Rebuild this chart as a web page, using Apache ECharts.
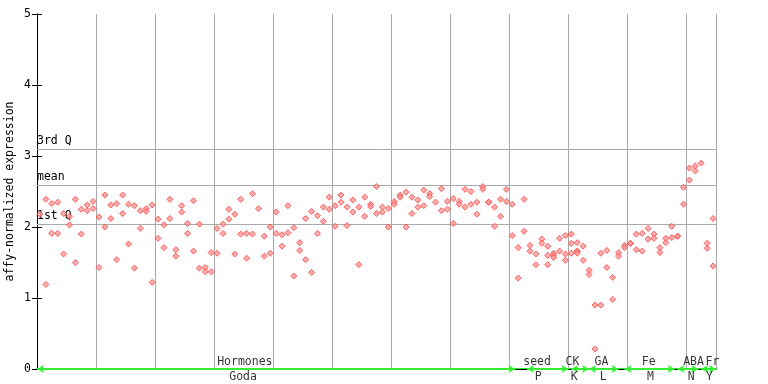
<!DOCTYPE html>
<html><head><meta charset="utf-8">
<script src="https://cdn.jsdelivr.net/npm/echarts@6/dist/echarts.min.js"></script>
<style>html,body{margin:0;padding:0;background:#fff}#c{width:768px;height:384px}</style>
</head><body><div id="c"></div>
<script>
// Expression values per sample position (x = index + 0.5)
const expression = [
 [2.18],[2.39,1.19],[2.33,1.91],[2.35,1.91],[2.19,1.62],[2.15,2.03],[2.39,1.50],[2.25,1.90],[2.31,2.23],[2.36,2.26],
 [2.14,1.43],[2.45,2.00],[2.31,2.12],[2.33,1.54],[2.45,2.19],[2.32,1.76],[2.30,1.42],[2.23,1.98],[2.26,2.22],[2.31,1.22],
 [2.11,1.84],[2.03,1.71],[2.39,2.12],[1.68,1.59],[2.30,2.21],[2.05,1.91],[2.37,1.66],[2.04,1.42],[1.43,1.37],[1.64,1.37],
 [1.98,1.63],[2.04,1.91],[2.25,2.11],[2.18,1.62],[2.39,1.90],[1.91,1.56],[2.47,1.90],[2.26],[1.87,1.59],[2.00,1.63],
 [2.21,1.91],[1.89,1.73],[2.30,1.92],[1.99,1.31],[1.78,1.67],[2.12,1.54],[2.22,1.36],[2.16,1.91],[2.28,2.08],[2.42,2.25],
 [2.30,2.01],[2.45,2.35],[2.28,2.02],[2.38,2.21],[2.28,1.47],[2.42,2.15],[2.32,2.29],[2.57,2.19],[2.28,2.21],[2.26,2.00],
 [2.36,2.32],[2.45,2.42],[2.49,2.00],[2.42,2.19],[2.38,2.28],[2.52,2.30],[2.47,2.43],[2.35],[2.54,2.23],[2.36,2.25],
 [2.40,2.05],[2.36,2.32],[2.53,2.28],[2.50,2.32],[2.35,2.18],[2.57,2.53],[2.35,2.35],[2.28,2.01],[2.39,2.15],[2.53,2.36],
 [2.32,1.88],[1.71,1.28],[2.39,1.94],[1.74,1.66],[1.62,1.47],[1.83,1.77],[1.73,1.60,1.47],[1.63,1.60,1.57],[1.84,1.66],[1.88,1.62,1.53],
 [1.90,1.77,1.63],[1.78,1.66,1.66,1.63],[1.73,1.53],[1.39,1.33],[0.90,0.28],[1.63,0.90],[1.67,1.43],[1.29,0.98],[1.64,1.59],[1.74,1.71],
 [1.77,1.77],[1.90,1.68],[1.91,1.66],[1.98,1.83],[1.90,1.84],[1.71,1.64],[1.84,1.78],[2.01,1.85],[1.87,1.87],[2.56,2.32],
 [2.83,2.66],[2.86,2.79],[2.90],[1.77,1.70],[2.12,1.45]
];
const xMax = 115;
const refNames = ['3rd Q','mean','1st Q'];
const refValues = [3.10, 2.59, 2.04];
// experiment groups along the bottom axis
const groupStart = [0, 83, 90.5, 93.5, 99.5, 108.5, 112.5];
const groupEnd   = [81, 90, 93.5, 98.5, 108, 112, 115];
const groupTop = ['Hormones','seed','CK','GA','Fe','ABA','Fr'];
const groupTopPos = [35.2, 84.7, 90.7, 95.6, 103.6, 111.2, 114.4];
const groupBottom = ['Goda','P','K','L','M','N','Y'];
const groupBottomPos = [34.9, 84.9, 91.0, 95.9, 103.9, 110.8, 113.9];

const mono = 'DejaVu Sans Mono';
const pts = [];
expression.forEach((vals, i) => vals.forEach(v => pts.push([i + 0.5, v])));

const chart = echarts.init(document.getElementById('c'), null, {renderer: 'canvas'});
chart.setOption({
  animation: false,
  grid: {left: 37, right: 52, top: 14, bottom: 15, containLabel: false, outerBoundsMode: 'none'},
  xAxis: [{
    type: 'value', min: 0, max: xMax, interval: 10, position: 'bottom',
    axisLine: {lineStyle: {color: '#33ee33', width: 2}},
    axisTick: {show: false}, axisLabel: {show: false},
    splitLine: {show: true, lineStyle: {color: '#aaaaaa', width: 1}}
  }, {
    type: 'value', min: 0, max: xMax, position: 'top',
    axisLine: {lineStyle: {color: '#000', width: 1}},
    axisTick: {show: false}, axisLabel: {show: false}, splitLine: {show: false}
  }],
  yAxis: [{
    type: 'value', min: 0, max: 5, interval: 1,
    name: 'affy-normalized expression', nameLocation: 'middle', nameGap: 21,
    nameMoveOverlap: false,
    nameTextStyle: {fontFamily: mono, fontSize: 11.5, color: '#000'},
    axisLine: {show: true, lineStyle: {color: '#000', width: 1}},
    axisTick: {show: true, inside: true, length: 5, lineStyle: {color: '#000'}},
    axisLabel: {fontFamily: mono, fontSize: 11.5, color: '#000', margin: 6},
    splitLine: {show: false}
  }, {
    type: 'value', min: 0, max: 5, interval: 1, position: 'right',
    axisLine: {show: true, lineStyle: {color: '#000', width: 1}},
    axisTick: {show: true, inside: true, length: 5, lineStyle: {color: '#000'}},
    axisLabel: {show: false}, splitLine: {show: false}
  }],
  series: [{
    type: 'scatter', data: pts, symbol: 'diamond', symbolSize: 6,
    itemStyle: {color: '#ff9a9a', borderColor: '#ff4040', borderWidth: 1},
    z: 5,
    markLine: {
      silent: true, symbol: ['none','none'],
      lineStyle: {color: '#aaaaaa', width: 1, type: 'solid'},
      label: {show: true, position: 'insideStartTop', distance: [0, 2],
               fontFamily: mono, fontSize: 11.5, color: '#000',
               formatter: p => p.name},
      data: refValues.map((v, k) => ({yAxis: v, name: refNames[k]}))
    }
  }, {
    type: 'scatter', clip: false, symbolSize: 0, data: [], z: 6,
    markLine: {
      silent: true, symbol: ['arrow','arrow'], symbolSize: [6, 7],
      lineStyle: {color: '#33ee33', width: 2, type: 'solid'},
      label: {show: false},
      data: groupStart.map((s, k) => [{coord: [s, 0]}, {coord: [groupEnd[k], 0]}])
    }
  }, {
    type: 'scatter', clip: false, symbolSize: 0, z: 7, silent: true,
    data: groupTop.map((t, k) => ({value: [groupTopPos[k], 0], name: t})),
    label: {show: true, position: 'inside', offset: [0, -7], formatter: p => p.name,
            fontFamily: mono, fontSize: 11.5, color: '#000'}
  }, {
    type: 'scatter', clip: false, symbolSize: 0, z: 7, silent: true,
    data: groupBottom.map((t, k) => ({value: [groupBottomPos[k], 0], name: t})),
    label: {show: true, position: 'inside', offset: [0, 8], formatter: p => p.name,
            fontFamily: mono, fontSize: 11.5, color: '#000'}
  }]
});
</script></body></html>
